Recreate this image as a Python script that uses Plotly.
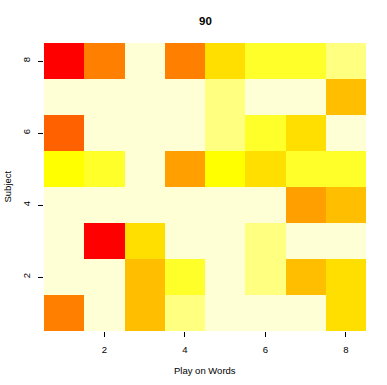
import plotly.graph_objects as go

# heat.colors(12) palette levels (1 = red ... 12 = pale cream)
palette = ["#FF0000", "#FF2000", "#FF4000", "#FF6000", "#FF8000", "#FF9F00",
           "#FFBF00", "#FFDF00", "#FFFF00", "#FFFF2A", "#FFFF80", "#FFFFD5"]

play_on_words = [1, 2, 3, 4, 5, 6, 7, 8]
subject = [1, 2, 3, 4, 5, 6, 7, 8]

# level per cell, rows = subject 1..8, columns = play on words 1..8
subj1 = [5, 12, 7, 11, 12, 12, 12, 8]
subj2 = [12, 12, 7, 10, 12, 11, 7, 8]
subj3 = [12, 1, 8, 12, 12, 11, 12, 12]
subj4 = [12, 12, 12, 12, 12, 12, 6, 7]
subj5 = [9, 10, 12, 6, 9, 8, 10, 10]
subj6 = [4, 12, 12, 12, 11, 10, 8, 12]
subj7 = [12, 12, 12, 12, 11, 12, 12, 7]
subj8 = [1, 5, 12, 5, 8, 10, 10, 11]

z = [subj1, subj2, subj3, subj4, subj5, subj6, subj7, subj8]

n = len(palette)
colorscale = []
for i, c in enumerate(palette):
    colorscale.append([i / n, c])
    colorscale.append([(i + 1) / n, c])

fig = go.Figure(go.Heatmap(
    x=play_on_words, y=subject, z=z,
    colorscale=colorscale, zmin=0.5, zmax=n + 0.5,
    showscale=False, hoverinfo="skip", xgap=0, ygap=0,
))

PL, PR, PT, PB = 44, 366, 43, 331   # plot area in window pixels
W, H = 387, 385


def py(p):
    return (PB - p) / (PB - PT)


def px(p):
    return (p - PL) / (PR - PL)


font = dict(family="Liberation Sans, Arial, sans-serif", color="#000000")
fig.update_layout(
    width=W, height=H,
    margin=dict(l=PL, r=W - PR, t=PT, b=H - PB, autoexpand=False),
    paper_bgcolor="white", plot_bgcolor="white",
    font=dict(size=9.5, **font),
    showlegend=False,
    annotations=[
        dict(text="<b>90</b>", xref="paper", yref="paper", x=0.5, y=py(21),
             showarrow=False, font=dict(size=11.5, **font), xanchor="center", yanchor="middle"),
        dict(text="Play on Words", xref="paper", yref="paper", x=0.5, y=py(370),
             showarrow=False, font=dict(size=9.5, **font), xanchor="center", yanchor="middle"),
        dict(text="Subject", xref="paper", yref="paper", x=px(6.5), y=py(187),
             showarrow=False, textangle=-90, font=dict(size=9.5, **font),
             xanchor="center", yanchor="middle"),
    ],
)
fig.update_xaxes(
    range=[0.5, 8.5], tickvals=[2, 4, 6, 8], ticks="outside", ticklen=5,
    tickcolor="#000000", tickwidth=1, showgrid=False, zeroline=False, showline=False,
    ticklabelstandoff=5, tickfont=dict(size=9.5, **font), automargin=False,
)
fig.update_yaxes(
    range=[0.5, 8.5], tickvals=[2, 4, 6, 8], ticks="outside", ticklen=5,
    tickcolor="#000000", tickwidth=1, showgrid=False, zeroline=False, showline=False,
    tickangle=-90, ticklabelstandoff=4, tickfont=dict(size=9.5, **font), automargin=False,
)

fig.write_html(
    "out.html",
    config={"displayModeBar": False, "staticPlot": True},
    post_script="document.body.style.margin='0';document.body.style.overflow='hidden';",
)
